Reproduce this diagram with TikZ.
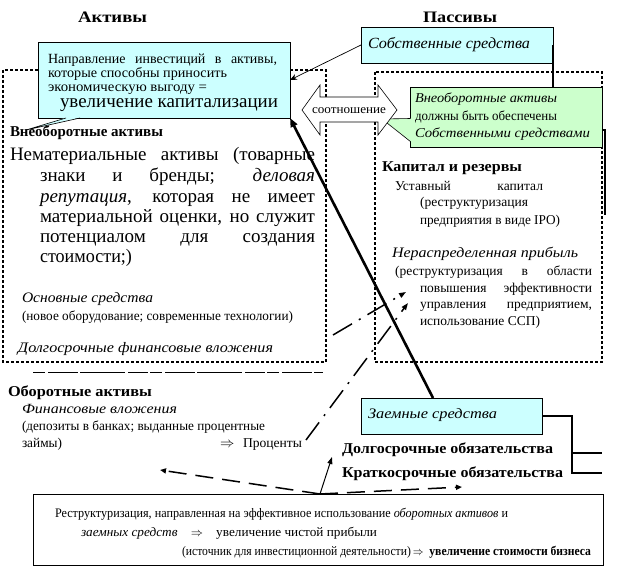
\documentclass[tikz,border=0pt]{standalone}
\usepackage{fontspec}
\setmainfont{Liberation Serif}
\usepackage{graphicx}
\usetikzlibrary{arrows.meta}
\definecolor{cyanfill}{HTML}{CCFFFF}
\definecolor{greenfill}{HTML}{CCFFCC}
\newcommand\fs[1]{\fontsize{#1bp}{#1bp}\selectfont}
\newcommand\tw[2]{\resizebox{#1bp}{\height}{#2}}
\newlength\jlen
\newcommand\jw[2]{\settowidth\jlen{#2}\ifdim\jlen>#1bp\relax\resizebox{#1bp}{\height}{#2}\else\makebox[#1bp][s]{#2}\fi}
\begin{document}
\begin{tikzpicture}[x=1bp,y=-1bp,
  txt/.style={anchor=base west,inner sep=0pt,outer sep=0pt},
  frame/.style={line width=2.7bp,dash pattern=on 2.7bp off 2.3bp},
  box/.style={draw,line width=0.8bp,anchor=north west,inner sep=0pt,outer sep=0pt},
  heavy/.style={line width=2.6bp},
  thinarrow/.style={line width=0.7bp,-{Stealth[length=7bp,width=6bp]}},
  dasharrow/.style={line width=1.5bp,dash pattern=on 18bp off 9bp,-{Triangle[length=6bp,width=5bp]}},
  dotdash/.style={line width=1.5bp,dash pattern=on 22bp off 8bp on 2bp off 8bp,-{Triangle[length=7bp,width=5bp]}},
  hd/.style={txt,font=\fs{16}\bfseries},
  bd/.style={txt,font=\fs{15}\bfseries},
  rg/.style={txt,font=\fs{13.5}},
  it/.style={txt,font=\fs{14.5}\itshape}]
\useasboundingbox (0,0) rectangle (626,573);
\fill[white] (0,0) rectangle (626,573);

% headings
\node[hd] (hA) at (78,23) {\tw{69}{Активы}};
\node[hd] (hP) at (423,23) {\tw{74}{Пассивы}};

% dotted frames
\draw[frame] (3,70) rectangle (326,362);
\draw[frame] (375,72) rectangle (602,362);
% clipped line of text below left frame
\coordinate (cl1) at (33,372); \coordinate (cl2) at (323,372);
\draw[line width=0.6bp,dash pattern=on 12bp off 3bp on 30bp off 2bp on 45bp off 3bp on 20bp off 2bp] (cl1) -- (cl2);

% blue investment box
\node[box,fill=cyanfill,minimum width=252bp,minimum height=76bp] (inv) at (38,42) {};
\fill[cyanfill] (66,117.6) -- (26,130) -- (80,117.6) -- cycle;
\draw[line width=0.6bp] (66,118) -- (26,130) -- (80,118);
\node[rg,font=\fs{14}] (i1) at (48,64) {\jw{229}{Направление инвестиций в активы,}};
\node[rg,font=\fs{14}] (i2) at (48,78) {\tw{179}{которые способны приносить}};
\node[rg,font=\fs{14}] (i3) at (48,91.5) {\tw{159}{экономическую выгоду =}};
\node[txt,font=\fs{19}] (i4) at (60,108) {\tw{218}{увеличение капитализации}};

% own funds box
\node[box,fill=cyanfill,minimum width=192bp,minimum height=36bp] (sob) at (361,27) {};
\node[it,font=\fs{15.5}\itshape] (s1) at (368,49) {\tw{162}{Собственные средства}};

% green box
\node[box,fill=greenfill,minimum width=192bp,minimum height=60bp] (grn) at (410,87) {};
\fill[greenfill] (411,118.5) -- (382,119) -- (411,141.5) -- cycle;
\draw[line width=0.6bp] (410.4,118.5) -- (382,119) -- (410.4,141.5);
\node[txt,font=\fs{13.5}\itshape] (g1) at (415,103) {\tw{142}{Внеоборотные активы}};
\node[rg] (g2) at (415,121) {\tw{142}{должны быть обеспечены}};
\node[txt,font=\fs{13.5}\itshape] (g3) at (415,138) {\tw{175}{Собственными средствами}};

% double arrow "соотношение"
\draw[line width=0.6bp,fill=white] (302,110) -- (320,85) -- (320,97) -- (378,97) -- (378,85) -- (397,110) -- (378,135) -- (378,122) -- (320,122) -- (320,135) -- cycle;
\node[txt,font=\fs{12.5}] (rel) at (312,114) {\tw{74}{соотношение}};

% left frame content
\node[bd] (vna) at (10,137) {\tw{153}{Внеоборотные активы}};
\begin{scope}[every node/.style={txt,font=\fs{19}}]
\node (p1) at (10,161) {\jw{305}{Нематериальные активы (товарные}};
\node (p2) at (40,182) {\jw{275}{знаки и бренды; {\itshape деловая}}};
\node (p3) at (40,202) {\jw{275}{{\itshape репутация}, которая не имеет}};
\node (p4) at (40,222) {\jw{275}{материальной оценки, но служит}};
\node (p5) at (40,242) {\jw{275}{потенциалом для создания}};
\node (p6) at (40,262) {\tw{92}{стоимости;)}};
\end{scope}
\node[it] (os1) at (22,302) {\tw{131}{Основные средства}};
\node[rg] (os2) at (22,320) {\tw{271}{(новое оборудование; современные технологии)}};
\node[it] (dfv) at (18,352) {\tw{255}{Долгосрочные финансовые вложения}};

% current assets
\node[bd] (oa) at (8,396) {\tw{144}{Оборотные активы}};
\node[txt,font=\fs{14}\itshape] (fv) at (22,413) {\tw{155}{Финансовые вложения}};
\node[rg] (dep1) at (22,430) {\tw{243}{(депозиты в банках; выданные процентные}};
\node[rg] (dep2) at (22,447) {\tw{40}{займы)}};
\node[rg] (imp) at (220,447) {$\Rightarrow$};
\node[rg] (proc) at (243,447) {\tw{59}{Проценты}};

% right frame content
\node[bd] (kr) at (382,172) {\tw{140}{Капитал и резервы}};
\node[rg] (uk1) at (395,190) {\jw{148}{Уставный капитал}};
\node[rg] (uk2) at (420,207) {\tw{108}{(реструктуризация}};
\node[rg] (uk3) at (420,224) {\tw{140}{предприятия в виде IPO)}};
\node[it] (np) at (392,257) {\tw{186}{Нераспределенная прибыль}};
\node[rg] (np1) at (395,275) {\jw{197}{(реструктуризация в области}};
\node[rg] (np2) at (420,292) {\jw{172}{повышения эффективности}};
\node[rg] (np3) at (420,308) {\jw{172}{управления предприятием,}};
\node[rg] (np4) at (420,325) {\tw{120}{использование ССП)}};

% borrowed funds
\node[box,fill=cyanfill,minimum width=181bp,minimum height=36bp] (zaem) at (361,398) {};
\node[it] (z1) at (368,418) {\tw{129}{Заемные средства}};
\node[bd] (dol) at (342,453) {\tw{211}{Долгосрочные обязательства}};
\node[bd] (kra) at (342,477) {\tw{221}{Краткосрочные обязательства}};

% bottom box
\node[box,minimum width=570bp,minimum height=71bp] (bot) at (33,494) {};
\node[txt,font=\fs{13}] (b1) at (55,517) {\tw{453}{Реструктуризация, направленная на эффективное использование \textit{оборотных активов} и}};
\node[txt,font=\fs{13}] (b2) at (81,536) {\tw{296}{\textit{заемных средств}\quad$\Rightarrow$\quad увеличение чистой прибыли}};
\node[txt,font=\fs{13}] (b3) at (182,555) {\tw{409}{(источник для инвестиционной деятельности)\,$\Rightarrow$\ \ \textbf{увеличение стоимости бизнеса}}};

% connectors
\draw[thinarrow] (sob.west) -- (inv.east);
\draw[heavy] (sob.east) -- (sob.east |- grn.north);
\coordinate (gR) at (602,130); \coordinate (gRc) at (605,130); \coordinate (gRe) at (605,215);
\draw[heavy] (gR) -- (gRc) -- (gRe);
\coordinate (zt) at (433,398);
\draw[heavy,-{Triangle[length=9bp,width=7bp]}] (zt) -- (inv.south east);
\coordinate (zb) at (572,416); \coordinate (zb1) at (572,453); \coordinate (zb2) at (572,473);
\coordinate (ze1) at (602,453); \coordinate (ze2) at (602,473);
\draw[heavy] (zaem.east |- zb) -- (zb) -- (zb2) -- (ze2);
\draw[heavy] (zb1) -- (ze1);

\coordinate (bc) at (320,494);
\coordinate (la) at (160,470);
\coordinate (ua) at (332,457);
\coordinate (ra) at (462,487);
\draw[dasharrow] (bc) -- (la);
\draw[line width=1bp,-{Triangle[length=7bp,width=5bp]}] (bc) -- (ua);
\draw[dasharrow] (bc) -- (ra);

\coordinate (dA0) at (306,440); \coordinate (dA1) at (408,303);
\draw[dotdash] (dA0) -- (dA1);
\coordinate (dB0) at (333,335); \coordinate (dB1) at (406,292);
\draw[dotdash] (dB0) -- (dB1);
\end{tikzpicture}
\end{document}
